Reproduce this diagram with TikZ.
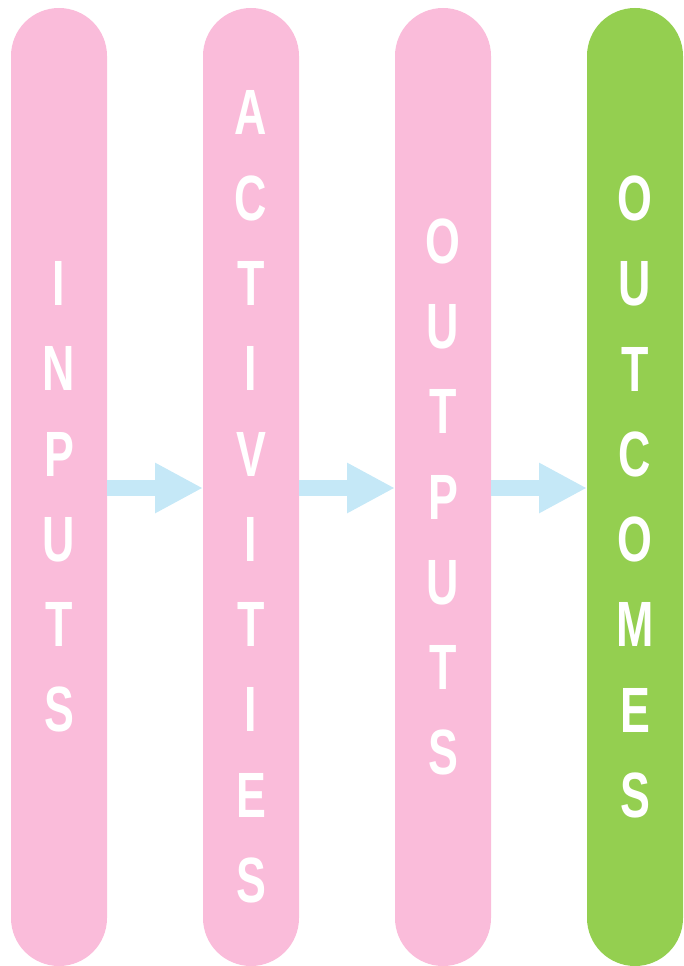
\documentclass[tikz,border=0pt]{standalone}
\usepackage{fontspec}
\newfontfamily\barfont{Liberation Sans}[FakeStretch=0.7]
\usetikzlibrary{arrows.meta}
\definecolor{barpink}{RGB}{250,188,218}
\definecolor{bargreen}{RGB}{148,207,80}
\definecolor{arrowblue}{RGB}{197,232,247}
\tikzset{
  bar/.style={rectangle, rounded corners=48pt, minimum width=96pt, minimum height=958pt, inner sep=0pt, outer sep=0pt, draw=none},
  letters/.style={text=white, align=center, inner sep=0pt, font=\barfont\bfseries\fontsize{64}{85.3}\selectfont},
  flow/.style={draw=arrowblue, line width=16pt, -{Triangle[length=48pt,width=47pt]}}
}
\begin{document}
\begin{tikzpicture}[x=1pt,y=-1pt]
\useasboundingbox (0,0) rectangle (683,966);
\node[bar, fill=barpink] (in) at (59,487) {};
\node[bar, fill=barpink] (act) at (251,487) {};
\node[bar, fill=barpink] (out) at (443,487) {};
\node[bar, fill=bargreen] (oc) at (635,487) {};
\node[letters] (inT) at (59,497) {I\\N\\P\\U\\T\\S};
\node[letters] (actT) at (251,497) {A\\C\\T\\I\\V\\I\\T\\I\\E\\S};
\node[letters] (outT) at (443,497) {O\\U\\T\\P\\U\\T\\S};
\node[letters] (ocT) at (635,497) {O\\U\\T\\C\\O\\M\\E\\S};
\draw[flow] ([yshift=-1pt]in.east) -- ([yshift=-1pt]act.west);
\draw[flow] ([yshift=-1pt]act.east) -- ([yshift=-1pt]out.west);
\draw[flow] ([yshift=-1pt]out.east) -- ([yshift=-1pt]oc.west);
\end{tikzpicture}
\end{document}
